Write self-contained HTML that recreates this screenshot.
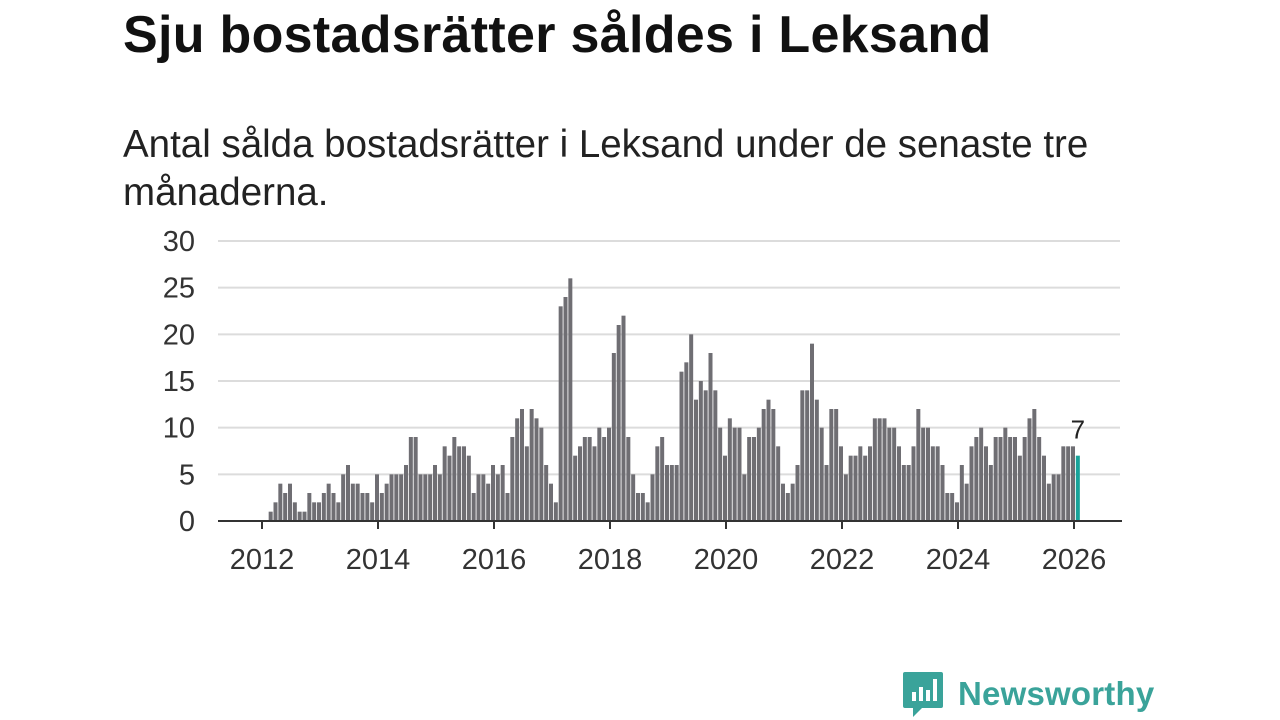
<!DOCTYPE html>
<html><head><meta charset="utf-8">
<style>
body{margin:0;width:1280px;height:720px;background:#fff;font-family:"Liberation Sans",sans-serif;overflow:hidden;position:relative}
#title{position:absolute;left:123px;top:5px;font-size:52px;font-weight:bold;color:#111;margin:0;letter-spacing:0.3px}
#sub{position:absolute;left:123px;top:121px;width:1040px;font-size:38.5px;line-height:48px;color:#222;margin:0}
svg{position:absolute;left:0;top:0}
#logo{position:absolute;left:902px;top:670px;display:flex;align-items:center}
#logo span{font-size:33px;font-weight:bold;color:#3aa39a;margin-left:14px;letter-spacing:0.2px}
</style></head><body>
<h1 id="title">Sju bostadsrätter såldes i Leksand</h1>
<p id="sub">Antal sålda bostadsrätter i Leksand under de senaste tre månaderna.</p>
<svg id="chart" width="1280" height="720"></svg>
<div id="logo">
<svg width="42" height="48" viewBox="0 0 42 48" style="position:static"><path d="M3 2h36a2 2 0 0 1 2 2v32a2 2 0 0 1-2 2H20l-9 9v-9H3a2 2 0 0 1-2-2V4a2 2 0 0 1 2-2z" fill="#3aa39a"/><rect x="10" y="22" width="4" height="9" fill="#fff"/><rect x="17" y="17" width="4" height="14" fill="#fff"/><rect x="24" y="20" width="4" height="11" fill="#fff"/><rect x="31" y="9" width="4" height="22" fill="#fff"/></svg>
<span>Newsworthy</span></div>
<script>
const startYear = 2012;
const values = [
0,0,1,2,4,3,4,2,1,1,3,2,
2,3,4,3,2,5,6,4,4,3,3,2,
5,3,4,5,5,5,6,9,9,5,5,5,
6,5,8,7,9,8,8,7,3,5,5,4,
6,5,6,3,9,11,12,8,12,11,10,6,
4,2,23,24,26,7,8,9,9,8,10,9,
10,18,21,22,9,5,3,3,2,5,8,9,
6,6,6,16,17,20,13,15,14,18,14,10,
7,11,10,10,5,9,9,10,12,13,12,8,
4,3,4,6,14,14,19,13,10,6,12,12,
8,5,7,7,8,7,8,11,11,11,10,10,
8,6,6,8,12,10,10,8,8,6,3,3,
2,6,4,8,9,10,8,6,9,9,10,9,
9,7,9,11,12,9,7,4,5,5,8,8,
8,7];
const yTicks = [0,5,10,15,20,25,30];
const xTickYears = [2012,2014,2016,2018,2020,2022,2024,2026];
const NS="http://www.w3.org/2000/svg";
const svg=document.getElementById('chart');
const X0=262, MW=(1074-262)/168;
const xm=i=>X0+i*MW-1;
const xy=yr=>X0+(yr-startYear)*12*MW;
const y=v=>521-v*(280/30);
function mk(t,a){const e=document.createElementNS(NS,t);for(const k in a)e.setAttribute(k,a[k]);svg.appendChild(e);return e;}
yTicks.forEach(v=>{
 if(v>0){const g=mk('line',{x1:218,x2:1120,y1:y(v),y2:y(v),stroke:'#dcdcdc','stroke-width':2});
 
 }
 const t=mk('text',{x:195,y:y(v)+10,'text-anchor':'end','font-size':29,fill:'#333','font-family':'Liberation Sans, sans-serif'});
 t.textContent=v;
 
 
});
values.forEach((v,i)=>{
 const last=i===values.length-1;
 const r=mk('rect',{x:xm(i)-2,y:y(v),width:4,height:521-y(v),fill:last?'#17a39a':'#6f6e73'});
 
 
 if(last){const t=mk('text',{x:xm(i),y:y(v)-17,'text-anchor':'middle','font-size':26,fill:'#222','font-family':'Liberation Sans, sans-serif'});t.textContent=v;
 
 }
});
const ax=mk('line',{x1:218,x2:1122,y1:521,y2:521,stroke:'#333','stroke-width':2});


xTickYears.forEach(yr=>{
 const tk=mk('line',{x1:xy(yr),x2:xy(yr),y1:521,y2:529,stroke:'#333','stroke-width':2});
 
 
 const t=mk('text',{x:xy(yr),y:569,'text-anchor':'middle','font-size':29,fill:'#333','font-family':'Liberation Sans, sans-serif'});
 t.textContent=yr;
 
 
});
</script>
</body></html>
